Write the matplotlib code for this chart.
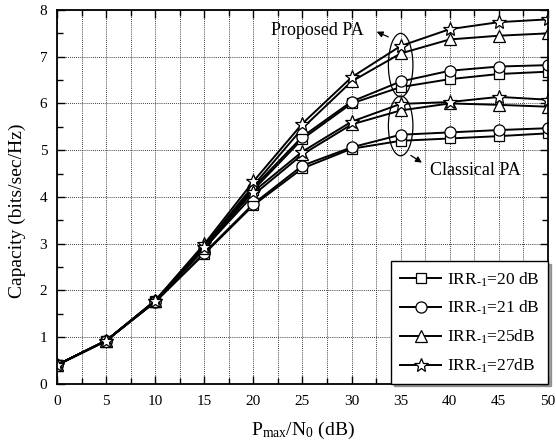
import matplotlib
matplotlib.use('Agg')
import matplotlib.pyplot as plt
from matplotlib.patches import Ellipse
from matplotlib.ticker import MultipleLocator

plt.rcParams['font.family'] = ['Liberation Serif', 'DejaVu Serif']
plt.rcParams['mathtext.fontset'] = 'custom'
plt.rcParams['mathtext.rm'] = 'Liberation Serif'
plt.rcParams['mathtext.it'] = 'Liberation Serif:italic'

# ── Data ─────────────────────────────────────────────────────────
snr_db = [0, 5, 10, 15, 20, 25, 30, 35, 40, 45, 50]

# Proposed PA
prop_20 = [0.40, 0.92, 1.77, 2.88, 4.15, 5.24, 6.00, 6.35, 6.52, 6.63, 6.68]
prop_21 = [0.40, 0.92, 1.77, 2.90, 4.20, 5.29, 6.04, 6.47, 6.70, 6.79, 6.82]
prop_25 = [0.40, 0.92, 1.78, 2.95, 4.24, 5.47, 6.47, 7.07, 7.37, 7.45, 7.50]
prop_27 = [0.40, 0.92, 1.78, 2.99, 4.33, 5.57, 6.56, 7.23, 7.59, 7.74, 7.80]

# Classical PA
clas_20 = [0.40, 0.92, 1.75, 2.78, 3.82, 4.61, 5.03, 5.20, 5.25, 5.30, 5.36]
clas_21 = [0.40, 0.92, 1.75, 2.80, 3.85, 4.67, 5.06, 5.33, 5.38, 5.43, 5.47]
clas_25 = [0.40, 0.92, 1.76, 2.90, 4.04, 4.91, 5.55, 5.85, 6.00, 5.97, 5.93]
clas_27 = [0.40, 0.92, 1.76, 2.93, 4.11, 4.97, 5.61, 5.99, 6.03, 6.14, 6.08]

labels = ['IRR$_{\\text{-}1}$=20 dB', 'IRR$_{\\text{-}1}$=21 dB',
          'IRR$_{\\text{-}1}$=25dB', 'IRR$_{\\text{-}1}$=27dB']
markers = ['s', 'o', '^', '*']


def main():
    fig = plt.figure(figsize=(5.56, 4.47), dpi=100)
    ax = fig.add_axes([0.1025, 0.1416, 0.883, 0.836])

    style = dict(color='black', lw=1.4, markerfacecolor='white',
                 markeredgecolor='black', markeredgewidth=0.9)
    sizes = {'s': 6.5, 'o': 8, '^': 8, '*': 10}

    handles = []
    for ys, mk, lab in zip([prop_20, prop_21, prop_25, prop_27], markers, labels):
        h, = ax.plot(snr_db, ys, marker=mk, ms=sizes[mk], label=lab, **style)
        handles.append(h)
    for ys, mk in zip([clas_20, clas_21, clas_25, clas_27], markers):
        ax.plot(snr_db, ys, marker=mk, ms=sizes[mk], **style)

    ax.set_xlim(0, 50)
    ax.set_ylim(0, 8)
    ax.xaxis.set_major_locator(MultipleLocator(5))
    ax.xaxis.set_minor_locator(MultipleLocator(2.5))
    ax.yaxis.set_major_locator(MultipleLocator(1))
    ax.yaxis.set_minor_locator(MultipleLocator(0.5))
    ax.tick_params(which='both', direction='in', top=True, right=True,
                   labelsize=11, width=1)
    ax.tick_params(axis='x', which='major', pad=8)
    ax.tick_params(axis='y', which='major', pad=7)
    ax.tick_params(which='major', length=6)
    ax.tick_params(which='minor', length=4)
    ax.grid(True, which='major', axis='both', color='black', ls=(0, (1, 1.5)), lw=0.6)
    ax.grid(True, which='minor', axis='x', color='black', ls=(0, (1, 1.5)), lw=0.6)
    for s in ax.spines.values():
        s.set_linewidth(1.3)

    ax.set_xlabel('P$_{\\rm max}$/N$_0$ (dB)', fontsize=14, labelpad=9)
    ax.set_ylabel('Capacity (bits/sec/Hz)', fontsize=14)
    ax.yaxis.set_label_coords(-0.063, 0.462)

    # ellipses + annotations
    ax.add_patch(Ellipse((35, 6.82), 2.5, 1.36, fill=False, ec='black', lw=0.9, zorder=5))
    ax.add_patch(Ellipse((35, 5.52), 2.5, 1.28, fill=False, ec='black', lw=0.9, zorder=5))
    ax.annotate('', xy=(32.3, 7.56), xytext=(34.0, 7.40),
                arrowprops=dict(arrowstyle='-|>', color='black', lw=0.9, mutation_scale=9))
    ax.text(31.2, 7.57, 'Proposed PA', fontsize=13, ha='right', va='center')
    ax.annotate('', xy=(37.4, 4.70), xytext=(35.8, 4.92),
                arrowprops=dict(arrowstyle='-|>', color='black', lw=0.9, mutation_scale=9))
    ax.text(38.0, 4.57, 'Classical PA', fontsize=13, ha='left', va='center')

    leg = ax.legend(handles=handles, loc='lower right', fontsize=12.5,
                    frameon=True, fancybox=False, shadow=True, borderaxespad=0,
                    handlelength=2.4, handletextpad=0.3, labelspacing=0.6,
                    borderpad=0.5)
    leg.get_frame().set_edgecolor('black')
    leg.get_frame().set_linewidth(1.0)

    fig.savefig('out.png', dpi=100)


if __name__ == "__main__":
    main()
